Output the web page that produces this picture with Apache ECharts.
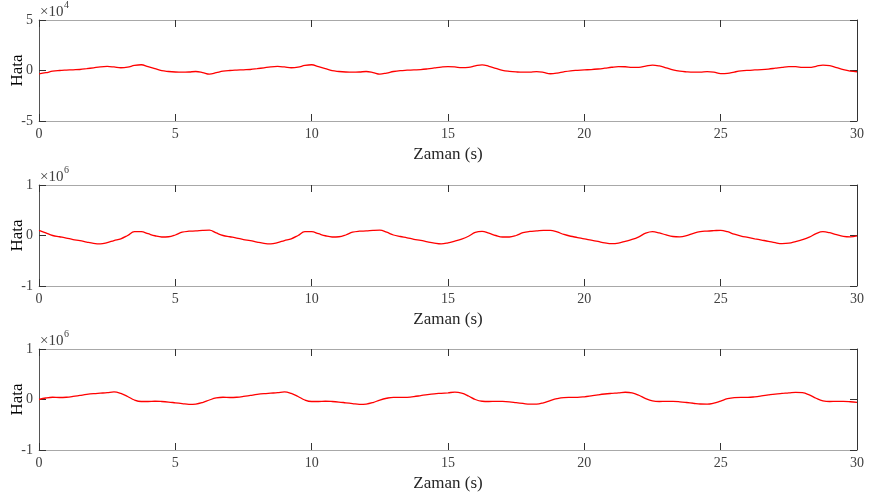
<!DOCTYPE html>
<html>
<head>
<meta charset="utf-8">
<script src="https://cdn.jsdelivr.net/npm/echarts@6/dist/echarts.min.js"></script>
<style>
  html, body { margin: 0; padding: 0; background: #fff; }
  #chart { width: 869px; height: 499px; }
</style>
</head>
<body>
<div id="chart"></div>
<script>
// zaman ekseni: 0..30 s, 0.25 s adim
var zaman = []
for (var i = 0; i <= 120; i++) zaman.push(i * 0.25)

// ust grafik (x1e4)
var hata1 = [
  -0.33,-0.22,-0.07,0,0.04,0.07,0.1,0.18,0.27,0.36,0.4,0.35,0.27,0.33,0.5,0.57,0.38,0.18,-0.02,-0.1,-0.15,-0.17,-0.15,-0.1,-0.2,-0.36,
  -0.22,-0.07,0,0.04,0.07,0.1,0.18,0.27,0.36,0.4,0.35,0.27,0.33,0.5,0.57,0.38,0.18,-0.02,-0.1,-0.15,-0.17,-0.15,-0.1,-0.2,-0.36,
  -0.25,-0.1,-0.01,0.03,0.06,0.09,0.16,0.25,0.34,0.39,0.36,0.28,0.31,0.46,0.56,0.42,0.22,0.02,-0.08,-0.14,-0.17,-0.16,-0.11,-0.18,-0.32,
  -0.26,-0.13,-0.03,0.02,0.06,0.09,0.15,0.23,0.32,0.38,0.37,0.3,0.31,0.43,0.54,0.45,0.26,0.06,-0.07,-0.13,-0.16,-0.16,-0.12,-0.16,-0.3,
  -0.28,-0.15,-0.04,0.02,0.055,0.085,0.14,0.225,0.315,0.38,0.375,0.31,0.3,0.415,0.535,0.475,0.28,0.08,-0.06,-0.125
]
// orta grafik (x1e6)
var hata2 = [
  0.1,0.05,0,-0.025,-0.05,-0.08,-0.1,-0.13,-0.155,-0.165,-0.14,-0.1,-0.065,0,0.075,0.075,0.035,-0.005,-0.03,-0.025,0.01,0.065,0.085,0.09,0.1,0.105,
  0.05,0,-0.025,-0.05,-0.08,-0.1,-0.13,-0.155,-0.165,-0.14,-0.1,-0.065,0,0.075,0.075,0.035,-0.005,-0.03,-0.025,0.01,0.065,0.085,0.09,0.1,0.105,
  0.065,0.01,-0.02,-0.045,-0.075,-0.095,-0.125,-0.15,-0.165,-0.145,-0.11,-0.07,-0.015,0.06,0.08,0.045,0,-0.03,-0.03,0,0.055,0.08,0.09,0.1,0.1,
  0.07,0.02,-0.015,-0.04,-0.068,-0.092,-0.118,-0.145,-0.161,-0.15,-0.116,-0.079,-0.026,0.045,0.075,0.051,0.011,-0.02,-0.027,-0.004,0.043,0.077,0.088,0.096,0.103,
  0.075,0.025,-0.013,-0.038,-0.065,-0.09,-0.115,-0.143,-0.16,-0.153,-0.12,-0.083,-0.033,0.038,0.075,0.055,0.015,-0.018,-0.028,-0.008
]
// alt grafik (x1e6)
var hata3 = [
  0,0.03,0.045,0.04,0.045,0.06,0.08,0.1,0.115,0.125,0.135,0.15,0.12,0.06,-0.01,-0.04,-0.04,-0.035,-0.04,-0.05,-0.065,-0.08,-0.095,-0.09,-0.06,-0.01,
  0.03,0.045,0.04,0.045,0.06,0.08,0.1,0.115,0.125,0.135,0.15,0.12,0.06,-0.01,-0.04,-0.04,-0.035,-0.04,-0.05,-0.065,-0.08,-0.095,-0.09,-0.06,-0.01,
  0.025,0.043,0.041,0.044,0.057,0.077,0.097,0.113,0.123,0.133,0.145,0.125,0.07,0,-0.035,-0.04,-0.036,-0.039,-0.048,-0.063,-0.078,-0.093,-0.092,-0.065,-0.02,
  0.018,0.039,0.042,0.043,0.054,0.072,0.092,0.109,0.121,0.131,0.144,0.132,0.084,0.018,-0.028,-0.04,-0.037,-0.038,-0.046,-0.059,-0.074,-0.089,-0.092,-0.072,-0.03,
  0.015,0.038,0.043,0.043,0.053,0.07,0.09,0.108,0.12,0.13,0.143,0.135,0.09,0.025,-0.025,-0.04,-0.038,-0.038,-0.045,-0.058
]

var carpan = [1e4, 1e6, 1e6]
var usler = ['4', '6', '6']
var ySinir = [5, 1, 1]

var font = 'Liberation Serif, Times New Roman, serif'
var tops = [20, 185, 349]
var H = 101

var myChart = echarts.init(document.getElementById('chart'))

var grid = [], xAxis = [], yAxis = [], series = [], graphic = []
var tumVeri = [hata1, hata2, hata3]

for (var k = 0; k < 3; k++) {
  grid.push({ left: 39, right: 12, top: tops[k], height: H, containLabel: false, outerBoundsMode: 'none' })

  // alt eksen (etiketli)
  xAxis.push({
    type: 'value', gridIndex: k, min: 0, max: 30, interval: 5,
    name: 'Zaman (s)', nameLocation: 'middle', nameGap: 25, nameMoveOverlap: false,
    nameTextStyle: { fontFamily: font, fontSize: 17, color: '#262626' },
    axisLine: { onZero: false, lineStyle: { color: '#a8a8a8', width: 1 } },
    axisTick: { inside: true, length: 7, lineStyle: { color: '#333' } },
    axisLabel: { fontFamily: font, fontSize: 14, color: '#404040', margin: 6 },
    splitLine: { show: false }
  })
  // ust eksen (kutu)
  xAxis.push({
    type: 'value', gridIndex: k, position: 'top', min: 0, max: 30, interval: 5,
    axisLine: { onZero: false, lineStyle: { color: '#a8a8a8', width: 1 } },
    axisTick: { inside: true, length: 7, lineStyle: { color: '#333' } },
    axisLabel: { show: false },
    splitLine: { show: false }
  })

  var s = carpan[k]
  yAxis.push({
    type: 'value', gridIndex: k, min: -ySinir[k] * s, max: ySinir[k] * s, interval: ySinir[k] * s,
    name: 'Hata', nameLocation: 'middle', nameGap: 13, nameRotate: 90, nameMoveOverlap: false,
    nameTextStyle: { fontFamily: font, fontSize: 17, color: '#000' },
    axisLine: { onZero: false, lineStyle: { color: '#555', width: 1 } },
    axisTick: { inside: true, length: 7, lineStyle: { color: '#333' } },
    axisLabel: {
      fontFamily: font, fontSize: 14, color: '#404040', margin: 6,
      formatter: (function (sc) { return function (v) { return String(Math.round(v / sc)) } })(s)
    },
    splitLine: { show: false }
  })
  yAxis.push({
    type: 'value', gridIndex: k, position: 'right', min: -ySinir[k] * s, max: ySinir[k] * s, interval: ySinir[k] * s,
    axisLine: { onZero: false, lineStyle: { color: '#333', width: 1 } },
    axisTick: { inside: true, length: 7, lineStyle: { color: '#333' } },
    axisLabel: { show: false },
    splitLine: { show: false }
  })

  var veri = []
  for (var j = 0; j < zaman.length; j++) veri.push([zaman[j], tumVeri[k][j] * s])

  series.push({
    type: 'line', xAxisIndex: k * 2, yAxisIndex: k * 2,
    data: veri, smooth: 0.4, showSymbol: false, symbol: 'none',
    lineStyle: { color: '#ff0000', width: 1.3 }
  })

  // x10^n etiketi
  graphic.push({
    type: 'text', left: 40, top: tops[k] - 15,
    style: { text: '\u00d710', fontFamily: font, fontSize: 15, fill: '#404040' }
  })
  graphic.push({
    type: 'text', left: 64, top: tops[k] - 20,
    style: { text: usler[k], fontFamily: font, fontSize: 10, fill: '#404040' }
  })
}

myChart.setOption({
  animation: false,
  backgroundColor: '#fff',
  grid: grid,
  xAxis: xAxis,
  yAxis: yAxis,
  series: series,
  graphic: graphic
})
</script>
</body>
</html>
